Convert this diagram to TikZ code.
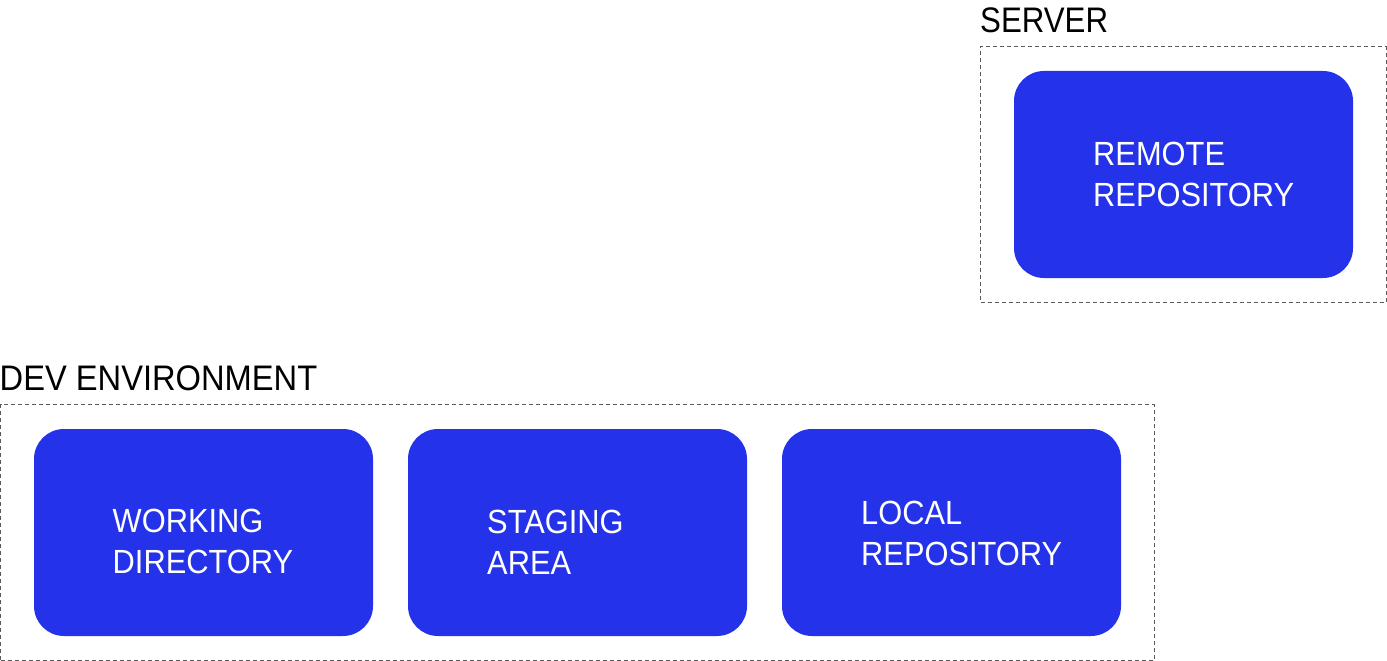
\documentclass[tikz,border=0pt]{standalone}
\usepackage{fontspec}
\setmainfont{Liberation Sans}
\newfontfamily\boxfont[FakeStretch=0.92]{Liberation Sans}
\newfontfamily\labelfont[FakeStretch=0.88]{Liberation Sans}
\newfontfamily\devlabelfont[FakeStretch=0.92]{Liberation Sans}
\usetikzlibrary{calc}
\definecolor{gitblue}{RGB}{36,51,234}
\definecolor{dashgray}{RGB}{90,90,90}
\begin{document}
\begin{tikzpicture}[x=1pt,y=-1pt,
  repo/.style={fill=gitblue, draw=none, rounded corners=30pt, minimum width=339pt, minimum height=207pt, inner sep=0pt, outer sep=0pt, anchor=north west},
  container/.style={draw=dashgray, dash pattern=on 4pt off 3pt, line width=1pt, inner sep=0pt, outer sep=0pt, anchor=north west},
  boxtext/.style={text=white, font=\boxfont\fontsize{33.5}{41}\selectfont, align=left, inner sep=0pt, anchor=base west},
  grouplabel/.style={text=black, font=\labelfont\fontsize{35.5}{40}\selectfont, inner sep=0pt, anchor=base west}]
\useasboundingbox (0,0) rectangle (1387,661);
% containers
\node[container, minimum width=405.5pt, minimum height=255.5pt] (server) at (980.5,46.5) {};
\node[container, minimum width=1153.5pt, minimum height=255.5pt] (dev) at (0.5,404.5) {};
% container labels
\node[grouplabel] (serverlabel) at (980,32.3) {SERVER};
\node[grouplabel, font=\devlabelfont\fontsize{35.5}{40}\selectfont] (devlabel) at (-0.5,390.7) {DEV ENVIRONMENT};
% boxes
\node[repo] (remote) at (1014,71) {};
\node[repo] (wd) at (34,429) {};
\node[repo] (stage) at (408,429) {};
\node[repo] (local) at (782,429) {};
% box texts (anchor at baseline of the last line)
\node[boxtext] (remotetext) at ($(remote.north west)+(79,135.7)$) {REMOTE\\REPOSITORY};
\node[boxtext] (wdtext) at ($(wd.north west)+(78.5,144.5)$) {WORKING\\DIRECTORY};
\node[boxtext] (stagetext) at ($(stage.north west)+(79,145)$) {STAGING\\AREA};
\node[boxtext] (localtext) at ($(local.north west)+(79,136)$) {LOCAL\\REPOSITORY};
\end{tikzpicture}
\end{document}
